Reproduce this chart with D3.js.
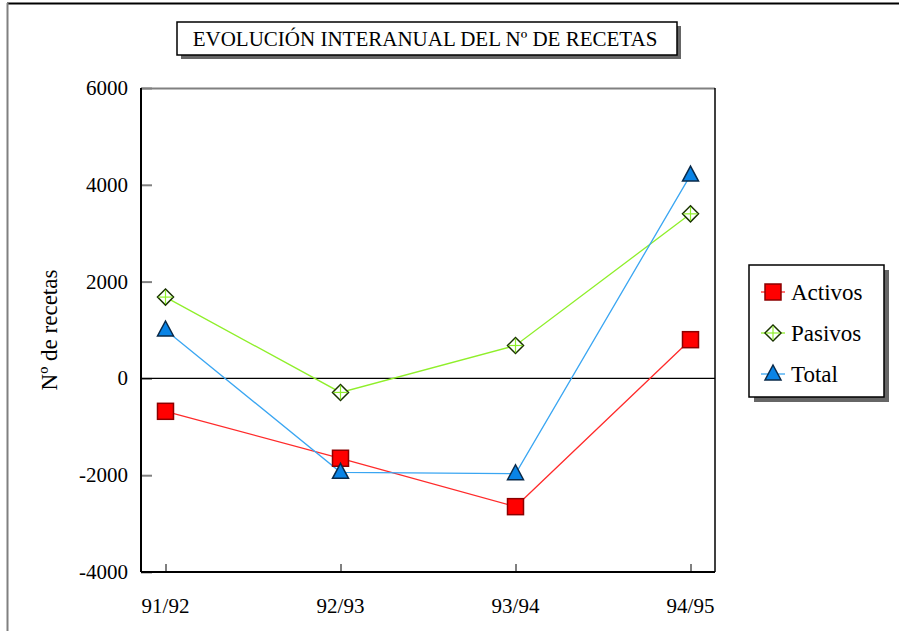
<!DOCTYPE html>
<html>
<head>
<meta charset="utf-8">
<script src="https://cdn.jsdelivr.net/npm/d3@7"></script>
<style>
body { margin: 0; background: #fff; }
</style>
</head>
<body>
<div id="chart-area"></div>
<script>
var periods = ["91/92", "92/93", "93/94", "94/95"];
var activos = [-680, -1650, -2650, 800];
var pasivos = [1680, -290, 680, 3400];
var total = [1000, -1940, -1970, 4200];
var yTicks = [-4000, -2000, 0, 2000, 4000, 6000];

var series = [
    {name: "Activos", values: activos, color: "#ff2a2a", symbol: "square"},
    {name: "Pasivos", values: pasivos, color: "#8fef2a", symbol: "diamond"},
    {name: "Total", values: total, color: "#3aa6f2", symbol: "triangle"}
];

var FONT = "Liberation Serif, Times New Roman, Times, Noto Serif, DejaVu Serif, serif";
var W = 899, H = 631;
var margin = {top: 88, left: 141};
var width = 574, height = 484;

var svg = d3.select("#chart-area")
    .append("svg")
        .attr("width", W)
        .attr("height", H)
        .style("font-family", FONT);

// outer frame
svg.append("line").attr("x1", 7).attr("x2", W).attr("y1", 3.5).attr("y2", 3.5)
    .attr("stroke", "#000").attr("stroke-width", 2);
svg.append("line").attr("x1", 7.5).attr("x2", 7.5).attr("y1", 3).attr("y2", H)
    .attr("stroke", "#808080").attr("stroke-width", 2);

var g = svg.append("g")
    .attr("transform", "translate(" + margin.left + ", " + margin.top + ")");

var x = d3.scalePoint().domain(periods).range([0, width]).padding(0.14);
var y = d3.scaleLinear().domain([-4000, 6000]).range([height, 0]);

// plot frame
g.append("line").attr("x1", 0).attr("x2", width).attr("y1", 0.5).attr("y2", 0.5)
    .attr("stroke", "#808080").attr("stroke-width", 2);
g.append("line").attr("x1", width).attr("x2", width).attr("y1", 0).attr("y2", height)
    .attr("stroke", "#000").attr("stroke-width", 1.5);

// y axis, ticks inside
var yAxisGroup = g.append("g").call(
    d3.axisRight(y).tickValues(yTicks).tickSize(11).tickFormat(""));
yAxisGroup.select(".domain").remove();
yAxisGroup.selectAll(".tick line").attr("stroke", "#808080").attr("stroke-width", 2);
g.append("line").attr("x1", 0).attr("x2", 0).attr("y1", 0).attr("y2", height)
    .attr("stroke", "#000").attr("stroke-width", 2);
g.selectAll(".ylab").data(yTicks).enter().append("text")
    .attr("class", "ylab")
    .attr("x", -13)
    .attr("y", (d) => { return y(d) + 7; })
    .attr("text-anchor", "end")
    .style("font-family", FONT)
    .attr("font-size", "21px")
    .text((d) => { return d; });

// x axis, ticks inside
var xAxisGroup = g.append("g")
    .attr("transform", "translate(0, " + height + ")")
    .call(d3.axisTop(x).tickSize(8).tickFormat(""));
xAxisGroup.select(".domain").remove();
xAxisGroup.selectAll(".tick line").attr("stroke", "#000");
g.append("line").attr("x1", 0).attr("x2", width).attr("y1", height).attr("y2", height)
    .attr("stroke", "#000").attr("stroke-width", 2);
g.selectAll(".xlab").data(periods).enter().append("text")
    .attr("class", "xlab")
    .attr("x", (d) => { return x(d); })
    .attr("y", height + 41)
    .attr("text-anchor", "middle")
    .style("font-family", FONT)
    .attr("font-size", "21px")
    .text((d) => { return d; });

// zero line
g.append("line").attr("x1", 0).attr("x2", width)
    .attr("y1", y(0)).attr("y2", y(0))
    .attr("stroke", "#000").attr("stroke-width", 1.2);

// y label
g.append("text")
    .attr("transform", "translate(-84, " + (height / 2) + ") rotate(-90)")
    .attr("text-anchor", "middle")
    .style("font-family", FONT)
    .attr("font-size", "23px")
    .text("Nº de recetas");

var line = d3.line()
    .x((d, i) => { return x(periods[i]); })
    .y((d) => { return y(d); });

function drawMarker(sel, s) {
    if (s.symbol === "square") {
        sel.append("rect").attr("x", -8).attr("y", -8).attr("width", 16).attr("height", 16)
            .attr("fill", "#ff0000").attr("stroke", "#8b0000").attr("stroke-width", 1.5);
    } else if (s.symbol === "diamond") {
        sel.append("path").attr("d", "M0,-8L8,0L0,8L-8,0Z")
            .attr("fill", "#fff").attr("stroke", "#1a3300").attr("stroke-width", 1.5);
        sel.append("line").attr("x1", 0).attr("x2", 0).attr("y1", -7).attr("y2", 7)
            .attr("stroke", s.color).attr("stroke-width", 1.2);
        sel.append("line").attr("x1", -7).attr("x2", 7).attr("y1", 0).attr("y2", 0)
            .attr("stroke", s.color).attr("stroke-width", 1.2);
    } else {
        sel.append("path").attr("d", "M0,-9L8,6L-8,6Z")
            .attr("fill", "#0a84e6").attr("stroke", "#0a2a4a").attr("stroke-width", 1.5);
    }
}

series.forEach((s) => {
    g.append("path")
        .datum(s.values)
        .attr("fill", "none")
        .attr("stroke", s.color)
        .attr("stroke-width", 1.3)
        .attr("d", line);
});

series.forEach((s) => {
    s.values.forEach((v, i) => {
        var m = g.append("g")
            .attr("transform", "translate(" + x(periods[i]) + ", " + y(v) + ")");
        drawMarker(m, s);
    });
});

// title box with shadow
var title = svg.append("g").attr("transform", "translate(177, 22)");
title.append("rect").attr("x", 4).attr("y", 4).attr("width", 500).attr("height", 33).attr("fill", "#666");
title.append("rect").attr("x", 0).attr("y", 0).attr("width", 500).attr("height", 33)
    .attr("fill", "#fff").attr("stroke", "#000").attr("stroke-width", 1.5);
title.append("text").attr("x", 248).attr("y", 24).attr("text-anchor", "middle")
    .style("font-family", FONT)
    .attr("font-size", "21px")
    .text("EVOLUCIÓN INTERANUAL DEL Nº DE RECETAS");

// legend with shadow
var legend = svg.append("g").attr("transform", "translate(749, 265)");
legend.append("rect").attr("x", 5).attr("y", 5).attr("width", 135).attr("height", 132).attr("fill", "#666");
legend.append("rect").attr("x", 0).attr("y", 0).attr("width", 135).attr("height", 132)
    .attr("fill", "#fff").attr("stroke", "#000").attr("stroke-width", 1.5);
series.forEach((s, i) => {
    var row = legend.append("g").attr("transform", "translate(24, " + (27 + i * 41) + ")");
    row.append("line").attr("x1", -12).attr("x2", 12).attr("y1", 0).attr("y2", 0)
        .attr("stroke", s.color).attr("stroke-width", 1.3);
    drawMarker(row, s);
    row.append("text").attr("x", 18).attr("y", 8)
        .style("font-family", FONT)
        .attr("font-size", "23px").text(s.name);
});
</script>
</body>
</html>
